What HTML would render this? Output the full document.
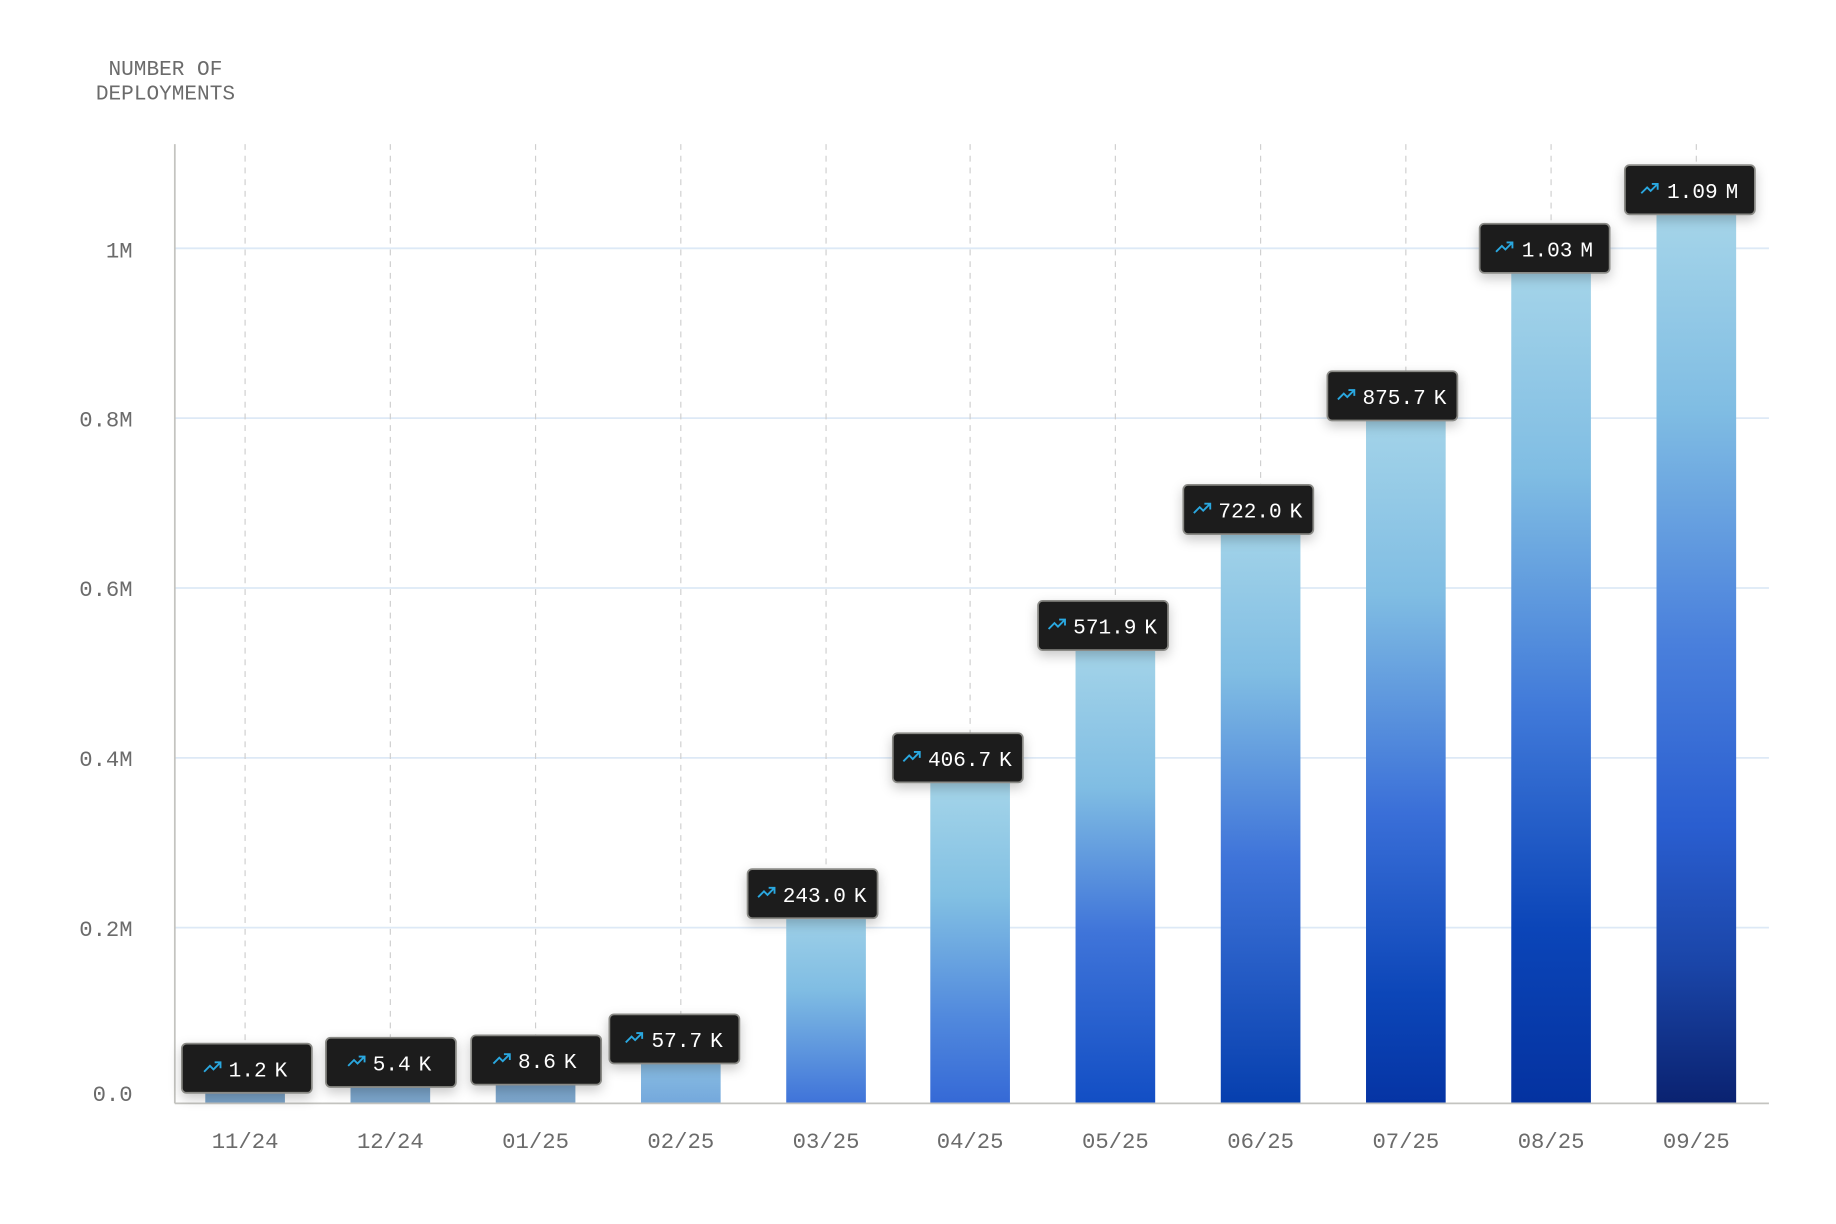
<!DOCTYPE html>
<html><head><meta charset="utf-8"><style>
html,body{margin:0;padding:0;background:#fff;}
svg{display:block;}
text{font-family:"Liberation Mono","DejaVu Sans Mono",monospace;}
</style></head><body>
<svg width="1836" height="1224" viewBox="0 0 1567 1045" xmlns="http://www.w3.org/2000/svg">
<defs>
<filter id="sh" x="-30%" y="-30%" width="160%" height="180%"><feDropShadow dx="0" dy="4" stdDeviation="5" flood-color="#000" flood-opacity="0.22"/></filter>
<linearGradient id="gS" x1="0" y1="0" x2="0" y2="1"><stop offset="0" stop-color="#7ba7cf"/><stop offset="1" stop-color="#7aa3c8"/></linearGradient>
<linearGradient id="g4" x1="0" y1="0" x2="0" y2="1"><stop offset="0" stop-color="#8ec2e4"/><stop offset="1" stop-color="#74a8dc"/></linearGradient>
<linearGradient id="g5" x1="0" y1="0" x2="0" y2="1"><stop offset="0" stop-color="#a6d5e9"/><stop offset="0.45" stop-color="#80bde3"/><stop offset="1" stop-color="#3f73d9"/></linearGradient>
<linearGradient id="g6" x1="0" y1="0" x2="0" y2="1"><stop offset="0" stop-color="#acd9ea"/><stop offset="0.4" stop-color="#82c0e3"/><stop offset="0.75" stop-color="#5189dd"/><stop offset="1" stop-color="#3569d6"/></linearGradient>
<linearGradient id="g7" x1="0" y1="0" x2="0" y2="1"><stop offset="0" stop-color="#acd9ea"/><stop offset="0.35" stop-color="#80bde3"/><stop offset="0.65" stop-color="#3f74d9"/><stop offset="1" stop-color="#124ec4"/></linearGradient>
<linearGradient id="g8" x1="0" y1="0" x2="0" y2="1"><stop offset="0" stop-color="#acd9ea"/><stop offset="0.3" stop-color="#80bde3"/><stop offset="0.6" stop-color="#3f74d9"/><stop offset="1" stop-color="#063fae"/></linearGradient>
<linearGradient id="g9" x1="0" y1="0" x2="0" y2="1"><stop offset="0" stop-color="#acd9ea"/><stop offset="0.3" stop-color="#80bde3"/><stop offset="0.6" stop-color="#3a6fd8"/><stop offset="0.85" stop-color="#0c46b8"/><stop offset="1" stop-color="#0534a4"/></linearGradient>
<linearGradient id="g10" x1="0" y1="0" x2="0" y2="1"><stop offset="0" stop-color="#acd9ea"/><stop offset="0.28" stop-color="#80bde3"/><stop offset="0.55" stop-color="#4079d9"/><stop offset="0.8" stop-color="#0b45b8"/><stop offset="1" stop-color="#0432a0"/></linearGradient>
<linearGradient id="g11" x1="0" y1="0" x2="0" y2="1"><stop offset="0" stop-color="#acd9ea"/><stop offset="0.25" stop-color="#80bde3"/><stop offset="0.5" stop-color="#4a80dc"/><stop offset="0.7" stop-color="#2a5ed0"/><stop offset="0.85" stop-color="#1a45a8"/><stop offset="1" stop-color="#0a2270"/></linearGradient>
<g id="ic"><path d="M0 8 L5 3 L8 6 L14 0 M9 0 L14 0 L14 5" fill="none" stroke="#2aa8e0" stroke-width="1.6"/></g>
</defs>

<text x="141" y="64" font-size="18" fill="#6b6b6b" text-anchor="middle">NUMBER OF</text>
<text x="141" y="85" font-size="18" fill="#6b6b6b" text-anchor="middle">DEPLOYMENTS</text>

<g stroke="#dde9f6" stroke-width="1.5">
<line x1="149" y1="212" x2="1510" y2="212"/>
<line x1="149" y1="357" x2="1510" y2="357"/>
<line x1="149" y1="502" x2="1510" y2="502"/>
<line x1="149" y1="647" x2="1510" y2="647"/>
<line x1="149" y1="792" x2="1510" y2="792"/>
</g>
<g stroke="#cfcfcf" stroke-width="1" stroke-dasharray="5,5">
<line x1="209" y1="123" x2="209" y2="942"/><line x1="333" y1="123" x2="333" y2="942"/>
<line x1="457" y1="123" x2="457" y2="942"/><line x1="581" y1="123" x2="581" y2="942"/>
<line x1="705" y1="123" x2="705" y2="942"/><line x1="828" y1="123" x2="828" y2="942"/>
<line x1="952" y1="123" x2="952" y2="942"/><line x1="1076" y1="123" x2="1076" y2="942"/>
<line x1="1200" y1="123" x2="1200" y2="942"/><line x1="1324" y1="123" x2="1324" y2="942"/>
<line x1="1448" y1="123" x2="1448" y2="942"/>
</g>

<g font-size="19" fill="#6b6b6b" text-anchor="end">
<text x="113" y="220">1M</text><text x="113" y="364">0.8M</text><text x="113" y="509">0.6M</text>
<text x="113" y="654">0.4M</text><text x="113" y="799">0.2M</text><text x="113" y="940">0.0</text>
</g>

<rect x="175" y="920" width="68" height="22" fill="url(#gS)"/>
<rect x="299" y="915" width="68" height="27" fill="url(#gS)"/>
<rect x="423" y="913" width="68" height="29" fill="url(#gS)"/>
<rect x="547" y="900" width="68" height="42" fill="url(#g4)"/>
<rect x="671" y="766" width="68" height="176" fill="url(#g5)"/>
<rect x="794" y="647" width="68" height="295" fill="url(#g6)"/>
<rect x="918" y="527" width="68" height="415" fill="url(#g7)"/>
<rect x="1042" y="419" width="68" height="523" fill="url(#g8)"/>
<rect x="1166" y="322" width="68" height="620" fill="url(#g9)"/>
<rect x="1290" y="195" width="68" height="747" fill="url(#g10)"/>
<rect x="1414" y="152" width="68" height="790" fill="url(#g11)"/>

<line x1="149" y1="123" x2="149" y2="942" stroke="#c4c4c0" stroke-width="1.5"/>
<line x1="149" y1="942" x2="1510" y2="942" stroke="#c4c4c0" stroke-width="1.5"/>

<g font-size="19" fill="#6b6b6b" text-anchor="middle">
<text x="209" y="980">11/24</text><text x="333" y="980">12/24</text><text x="457" y="980">01/25</text>
<text x="581" y="980">02/25</text><text x="705" y="980">03/25</text><text x="828" y="980">04/25</text>
<text x="952" y="980">05/25</text><text x="1076" y="980">06/25</text><text x="1200" y="980">07/25</text>
<text x="1324" y="980">08/25</text><text x="1448" y="980">09/25</text>
</g>

<g font-size="18" fill="#fff">
<g transform="translate(155,891)"><rect width="111" height="42" rx="4" fill="#1d1d1b" stroke="#8a8a86" stroke-width="1.5" filter="url(#sh)"/><use href="#ic" x="19" y="16"/><text x="40" y="28">1.2<tspan dx="-4"> K</tspan></text></g>
<g transform="translate(278,886)"><rect width="111" height="42" rx="4" fill="#1d1d1b" stroke="#8a8a86" stroke-width="1.5" filter="url(#sh)"/><use href="#ic" x="19" y="16"/><text x="40" y="28">5.4<tspan dx="-4"> K</tspan></text></g>
<g transform="translate(402,884)"><rect width="111" height="42" rx="4" fill="#1d1d1b" stroke="#8a8a86" stroke-width="1.5" filter="url(#sh)"/><use href="#ic" x="19" y="16"/><text x="40" y="28">8.6<tspan dx="-4"> K</tspan></text></g>
<g transform="translate(520,866)"><rect width="111" height="42" rx="4" fill="#1d1d1b" stroke="#8a8a86" stroke-width="1.5" filter="url(#sh)"/><use href="#ic" x="14" y="16"/><text x="36" y="28">57.7<tspan dx="-4"> K</tspan></text></g>
<g transform="translate(638,742)"><rect width="111" height="42" rx="4" fill="#1d1d1b" stroke="#8a8a86" stroke-width="1.5" filter="url(#sh)"/><use href="#ic" x="9" y="16"/><text x="30" y="28">243.0<tspan dx="-4"> K</tspan></text></g>
<g transform="translate(762,626)"><rect width="111" height="42" rx="4" fill="#1d1d1b" stroke="#8a8a86" stroke-width="1.5" filter="url(#sh)"/><use href="#ic" x="9" y="16"/><text x="30" y="28">406.7<tspan dx="-4"> K</tspan></text></g>
<g transform="translate(886,513)"><rect width="111" height="42" rx="4" fill="#1d1d1b" stroke="#8a8a86" stroke-width="1.5" filter="url(#sh)"/><use href="#ic" x="9" y="16"/><text x="30" y="28">571.9<tspan dx="-4"> K</tspan></text></g>
<g transform="translate(1010,414)"><rect width="111" height="42" rx="4" fill="#1d1d1b" stroke="#8a8a86" stroke-width="1.5" filter="url(#sh)"/><use href="#ic" x="9" y="16"/><text x="30" y="28">722.0<tspan dx="-4"> K</tspan></text></g>
<g transform="translate(1133,317)"><rect width="111" height="42" rx="4" fill="#1d1d1b" stroke="#8a8a86" stroke-width="1.5" filter="url(#sh)"/><use href="#ic" x="9" y="16"/><text x="30" y="28">875.7<tspan dx="-4"> K</tspan></text></g>
<g transform="translate(1263,191)"><rect width="111" height="42" rx="4" fill="#1d1d1b" stroke="#8a8a86" stroke-width="1.5" filter="url(#sh)"/><use href="#ic" x="14" y="16"/><text x="36" y="28">1.03<tspan dx="-4"> M</tspan></text></g>
<g transform="translate(1387,141)"><rect width="111" height="42" rx="4" fill="#1d1d1b" stroke="#8a8a86" stroke-width="1.5" filter="url(#sh)"/><use href="#ic" x="14" y="16"/><text x="36" y="28">1.09<tspan dx="-4"> M</tspan></text></g>
</g>
</svg>
</body></html>
